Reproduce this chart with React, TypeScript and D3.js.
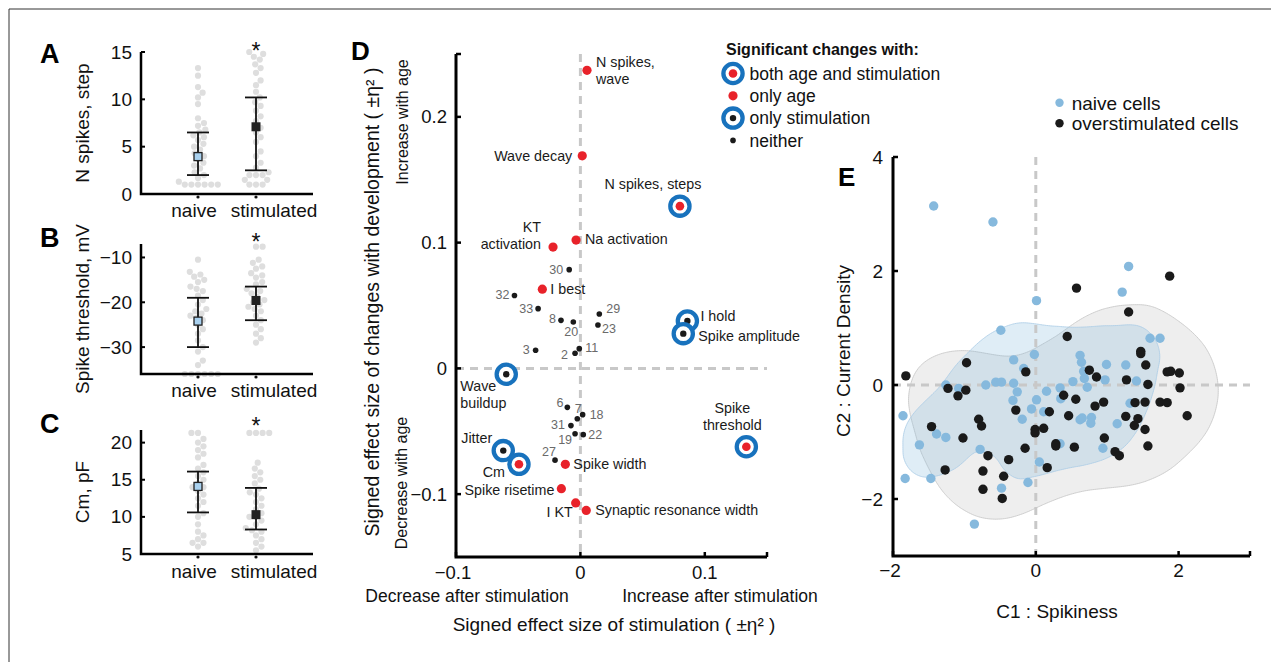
import React from "react";
import * as d3 from "d3";

const FONT = "'Liberation Sans', Arial, Helvetica, sans-serif";

// ---------------- Panels A–C data ----------------
const groups = ["naive", "stimulated"];

const spikesNaive = [13.3, 12.5, 11.3, 10.7, 10.2, 9.5, 8, 7.5, 7.2, 6.8, 6.5, 6.2, 6, 5.7, 5.3, 5, 4.7, 4.3, 4, 3.7, 3.3, 3, 2.7, 2.3, 2, 1.7, 1.3, 1, 1, 1, 1, 1, 1];
const spikesStim = [15, 14.8, 14.5, 14.2, 13.7, 13.3, 12.8, 12, 11.5, 10.8, 10.2, 9.7, 9.3, 8.8, 8.2, 7.7, 7, 6.5, 6, 5.5, 4.5, 4, 3.3, 2.8, 2.3, 2, 2, 2, 1.5, 1.5, 1, 1, 1];
const spikesMean = [3.95, 7.1];
const spikesLow = [2.0, 2.5];
const spikesHigh = [6.5, 10.2];
const spikesTicks = [0, 5, 10, 15];

const thrNaive = [-10.5, -13.2, -13.8, -14.3, -15, -15.5, -16.5, -17, -17.5, -18.5, -19.5, -20.5, -21.5, -22, -22.5, -23, -23.5, -24, -25, -26, -27, -28.5, -30, -31, -33, -34, -36, -36, -36, -36, -36, -36];
const thrStim = [-7.6, -7.6, -10.5, -11.2, -12, -12.5, -13.5, -14, -14.5, -15.5, -16, -17, -17.5, -18, -18.8, -19.5, -20, -20.5, -21, -21.5, -22, -23, -24, -25, -26, -27, -28, -29];
const thrMean = [-24.2, -19.6];
const thrLow = [-30, -24];
const thrHigh = [-19, -16.5];
const thrTicks = [-30, -20, -10];

const cmNaive = [21.3, 21.3, 20.5, 20, 19.5, 19, 18.5, 18, 17, 16.5, 16, 15.5, 15, 14.5, 14, 14, 13.5, 13, 12.5, 12, 11.5, 10.5, 10, 9, 8, 7.5, 7, 6.5, 6.5, 6];
const cmStim = [21.3, 21.3, 21.3, 21.3, 17.3, 16.5, 16, 15.5, 15, 14.5, 13.8, 13.3, 13, 12.5, 12, 11.5, 11, 10.5, 10, 10, 9.5, 9, 8.5, 8.2, 8, 7.5, 7, 6.5, 6, 5.5];
const cmMean = [14.1, 10.3];
const cmLow = [10.6, 8.3];
const cmHigh = [16.1, 13.9];
const cmTicks = [5, 10, 15, 20];

// ---------------- Panel D data ----------------
const effectNames = [
  "N spikes,\nwave", "Wave decay", "N spikes, steps", "KT\nactivation", "Na activation", "30", "I best", "32", "33", "29",
  "8", "20", "23", "3", "11", "2", "I hold", "Spike amplitude", "Wave\nbuildup", "6",
  "7", "18", "31", "19", "22", "Jitter", "Cm", "27", "Spike width", "Spike risetime",
  "I KT", "Synaptic resonance width", "Spike\nthreshold",
];
const stimEffect = [
  0.0053, 0.0015, 0.080, -0.022, -0.0035, -0.009, -0.0306, -0.053, -0.034, 0.0152,
  -0.0156, -0.0057, 0.0141, -0.036, -0.0009, -0.0043, 0.086, 0.0827, -0.0596, -0.0105,
  -0.0025, 0.0018, -0.0076, -0.0043, 0.0023, -0.062, -0.0494, -0.0204, -0.0121, -0.0153,
  -0.0038, 0.0047, 0.1334,
];
const ageEffect = [
  0.237, 0.169, 0.129, 0.0965, 0.102, 0.0785, 0.063, 0.058, 0.0475, 0.0433,
  0.0382, 0.0369, 0.0345, 0.0144, 0.0157, 0.012, 0.0377, 0.0276, -0.0047, -0.031,
  -0.040, -0.0368, -0.0455, -0.052, -0.0527, -0.0654, -0.0763, -0.073, -0.0763, -0.0957,
  -0.107, -0.113, -0.0623,
];
const significance = [
  "age", "age", "both", "age", "age", "neither", "age", "neither", "neither", "neither",
  "neither", "neither", "neither", "neither", "neither", "neither", "stim", "stim", "stim", "neither",
  "neither", "neither", "neither", "neither", "neither", "stim", "both", "neither", "age", "age",
  "age", "age", "both",
];
const legendKeys = ["both", "age", "stim", "neither"];
const legendLabels = ["both age and stimulation", "only age", "only stimulation", "neither"];
const dXTicks = [-0.1, 0, 0.1];
const dYTicks = [-0.1, 0, 0.1, 0.2];

// ---------------- Panel E data ----------------
const naiveC1 = [-1.43, -0.60, 1.30, 1.21, 0.01, -0.49, 1.60, 1.74, -0.02, -0.31, -0.17, 0.62, 0.64, 0.67, 0.99, 1.26, 0.68, 0.52, 0.97, 1.41, 0.72, 0.34, 0.15, 0.35, 0.01, -0.32, -0.26, -0.31, -0.56, -0.48, -0.70, -1.26, -1.08, -0.06, 0.11, -0.19, 0.62, 0.65, 0.78, 0.77, 1.14, 1.32, 0.34, 0.94, -0.78, -1.39, -1.26, -1.63, -1.86, -1.83, -1.47, 0.05, -0.11, -0.48, -0.86];
const naiveC2 = [3.14, 2.86, 2.08, 1.63, 1.48, 0.96, 0.82, 0.82, 0.535, 0.44, 0.29, 0.52, 0.40, 0.24, 0.36, 0.35, 0.115, 0.06, 0.09, 0.07, -0.04, -0.05, -0.11, -0.24, -0.26, -0.27, -0.12, 0.03, 0.05, 0.05, 0.00, 0.00, -0.06, -0.42, -0.47, -0.60, -0.61, -0.58, -0.57, -0.67, -0.68, -0.32, -1.03, -1.11, -1.13, -0.86, -0.92, -1.05, -0.54, -1.64, -1.64, -1.35, -1.71, -1.81, -2.44];
const stimC1 = [1.875, 0.57, 1.30, 0.44, -1.82, -0.97, -1.23, -1.09, -0.98, -0.14, 0.75, 0.85, 1.27, 1.47, 1.47, 1.54, 1.57, 1.84, 1.89, 2.01, 2.02, 1.74, 1.84, 2.12, 1.39, 1.53, 1.26, 1.43, 1.38, 1.53, 1.57, 1.11, 1.17, 0.96, 0.95, 0.83, 0.56, 0.39, 0.46, 0.54, 0.28, 0.28, 0.19, 0.11, -0.01, -0.01, -0.15, -0.28, 0.16, -0.80, -0.76, -1.46, -1.02, -0.67, -0.38, -1.27, -0.74, -0.45, -0.74, -0.47];
const stimC2 = [1.91, 1.70, 1.28, 0.85, 0.16, 0.39, -0.06, -0.19, -0.09, 0.23, 0.26, 0.14, 0.09, 0.59, 0.55, 0.35, 0.01, 0.23, 0.24, 0.21, -0.05, -0.30, -0.31, -0.54, -0.31, -0.30, -0.55, -0.59, -0.71, -0.78, -1.07, -1.17, -1.24, -0.93, -0.30, -0.37, -0.25, -0.18, -0.54, -1.09, -1.03, -1.07, -0.47, -0.76, -0.78, -0.84, -1.11, -0.44, -1.45, -0.60, -0.72, -0.73, -0.93, -1.24, -1.31, -1.49, -1.51, -1.60, -1.83, -1.99];
const eXTicks = [-2, 0, 2];
const eYTicks = [-2, 0, 2, 4];
const eLegend = ["naive cells", "overstimulated cells"];

// ---------------- layout / styles ----------------
const BLUE_RING = "#1872bd";
const RED = "#e8222a";
const DARK = "#1a1a1a";
const NAIVE_BLUE = "#86b9dd";
const DASH = "#c8c8c8";

const labelLayout: Record<string, [number, number, string]> = {
  "N spikes,\nwave": [9, -8, "start"],
  "Wave decay": [-10, 0, "end"],
  "N spikes, steps": [-27, -22, "middle"],
  "KT\nactivation": [-12, -20, "end"],
  "Na activation": [9, -1, "start"],
  "30": [-6, 0, "end"],
  "I best": [8, 0, "start"],
  "32": [-5, -1, "end"],
  "33": [-5, 0, "end"],
  "29": [7, -5, "start"],
  "8": [-5, -2, "end"],
  "20": [-2, 10, "middle"],
  "23": [4, 4, "start"],
  "3": [-6, -1, "end"],
  "11": [6, -1, "start"],
  "2": [-7, 1, "end"],
  "I hold": [13, -5, "start"],
  "Spike amplitude": [15, 2, "start"],
  "Wave\nbuildup": [-46, 12, "start"],
  "6": [-4, -5, "end"],
  "7": [1, -10, "middle"],
  "18": [7, 0, "start"],
  "31": [-6, -1, "end"],
  "19": [-3, 6, "end"],
  "22": [5, 0, "start"],
  "Jitter": [-11, -13, "end"],
  "Cm": [-14, 8, "end"],
  "27": [1, -9, "end"],
  "Spike width": [8, 0, "start"],
  "Spike risetime": [-7, 1, "end"],
  "I KT": [-3, 9.5, "end"],
  "Synaptic resonance width": [9, 0, "start"],
  "Spike\nthreshold": [-14, -39, "middle"],
};

function swarm(values: number[], y: (v: number) => number, r: number) {
  const d = 2 * r + 0.4;
  const placed: { x: number; y: number }[] = [];
  const sorted = values.map((v) => y(v)).sort((a, b) => b - a);
  for (const py of sorted) {
    const cands = [0];
    for (const q of placed) {
      const dy = Math.abs(q.y - py);
      if (dy < d) {
        const dx = Math.sqrt(d * d - dy * dy);
        cands.push(q.x + dx, q.x - dx);
      }
    }
    cands.sort((a, b) => Math.abs(a) - Math.abs(b) || b - a);
    let best = 0;
    for (const c of cands) {
      if (placed.every((q) => (q.x - c) ** 2 + (q.y - py) ** 2 >= d * d - 0.01)) {
        best = c;
        break;
      }
    }
    placed.push({ x: best, y: py });
  }
  return placed;
}

type PanelProps = {
  letter: string;
  letterY: number;
  label: string;
  naive: number[];
  stim: number[];
  mean: number[];
  low: number[];
  high: number[];
  ticks: number[];
  domain: [number, number];
  top: number;
  bottom: number;
  catY: number;
  starY: number;
};

function DotPanel(p: PanelProps) {
  const axisX = 141;
  const axisRight = 313;
  const y = d3.scaleLinear().domain(p.domain).range([p.bottom, p.top]);
  const x = d3.scalePoint<string>().domain(groups).range([198, 256]);
  const labelShift = [-4, 18];
  const sets = [p.naive, p.stim];
  const dotR = 3.1;
  return (
    <g>
      <text x={40} y={p.letterY} fontSize={27} fontWeight="bold" fill="#000">{p.letter}</text>
      <text transform={`translate(89,${(p.top + p.bottom) / 2}) rotate(-90)`} textAnchor="middle" fontSize={19} fill="#111">{p.label}</text>
      {sets.map((vals, gi) =>
        swarm(vals, (v) => y(v), dotR).map((pt, i) => (
          <circle key={`${gi}-${i}`} cx={x(groups[gi])! + pt.x} cy={pt.y} r={dotR} fill="#dedede" />
        ))
      )}
      {groups.map((g, gi) => {
        const cx = x(g)!;
        return (
          <g key={g}>
            <line x1={cx} x2={cx} y1={y(p.low[gi])} y2={y(p.high[gi])} stroke="#111" strokeWidth={1.8} />
            <line x1={cx - 11} x2={cx + 11} y1={y(p.low[gi])} y2={y(p.low[gi])} stroke="#111" strokeWidth={1.8} />
            <line x1={cx - 11} x2={cx + 11} y1={y(p.high[gi])} y2={y(p.high[gi])} stroke="#111" strokeWidth={1.8} />
            {gi === 0 ? (
              <rect x={cx - 4} y={y(p.mean[gi]) - 4} width={8} height={8} fill="#a9d1ef" stroke="#222" strokeWidth={1.3} />
            ) : (
              <rect x={cx - 4.5} y={y(p.mean[gi]) - 4.5} width={9} height={9} fill="#222" />
            )}
            <circle cx={cx} cy={p.bottom + 3} r={1.6} fill="#111" />
            <text x={cx + labelShift[gi]} y={p.catY} textAnchor="middle" fontSize={19} fill="#111">{g}</text>
          </g>
        );
      })}
      <text x={x("stimulated")!} y={p.starY} textAnchor="middle" fontSize={23} fill="#111">*</text>
      <path d={`M${axisX},${p.top}V${p.bottom}H${axisRight}`} fill="none" stroke="#000" strokeWidth={2.5} />
      {p.ticks.map((t) => (
        <g key={t}>
          <line x1={axisX} x2={axisX + 4} y1={y(t)} y2={y(t)} stroke="#000" strokeWidth={2} />
          <text x={axisX - 9} y={y(t) + 6.5} textAnchor="end" fontSize={19} fill="#111">{t < 0 ? `\u2212${Math.abs(t)}` : t}</text>
        </g>
      ))}
    </g>
  );
}

function Marker({ kind, cx, cy }: { kind: string; cx: number; cy: number }) {
  if (kind === "both" || kind === "stim") {
    return (
      <g>
        <circle cx={cx} cy={cy} r={9.6} fill="#fff" stroke={BLUE_RING} strokeWidth={4.3} />
        {kind === "both" ? <circle cx={cx} cy={cy} r={4.3} fill={RED} /> : <circle cx={cx} cy={cy} r={3.2} fill={DARK} />}
      </g>
    );
  }
  if (kind === "age") return <circle cx={cx} cy={cy} r={4.6} fill={RED} />;
  return <circle cx={cx} cy={cy} r={2.8} fill={DARK} />;
}

const fmt = (t: number) => (t < 0 ? `\u2212${Math.abs(t)}` : `${t}`);

function PanelD() {
  const x = d3.scaleLinear().domain([-0.1, 0.15]).range([456, 767]);
  const y = d3.scaleLinear().domain([-0.15, 0.25]).range([557, 54]);
  const order = d3.range(effectNames.length);
  return (
    <g>
      <text x={351} y={60} fontSize={26} fontWeight="bold" fill="#000">D</text>
      <line x1={x(0)} x2={x(0)} y1={y(0.25)} y2={y(-0.15)} stroke={DASH} strokeWidth={3} strokeDasharray="8 6" />
      <line x1={x(-0.1)} x2={x(0.15)} y1={y(0)} y2={y(0)} stroke={DASH} strokeWidth={3} strokeDasharray="8 6" />
      <path d={`M${x(-0.1)},${y(0.25)}V${y(-0.15)}H${x(0.15)}`} fill="none" stroke="#000" strokeWidth={3} />
      {[...dYTicks, 0.25].map((t) => (
        <line key={"yt" + t} x1={x(-0.1)} x2={x(-0.1) + 5} y1={y(t)} y2={y(t)} stroke="#000" strokeWidth={2.5} />
      ))}
      {[...dXTicks, 0.15].map((t) => (
        <line key={"xt" + t} x1={x(t)} x2={x(t)} y1={y(-0.15)} y2={y(-0.15) - 5} stroke="#000" strokeWidth={2.5} />
      ))}
      {dYTicks.map((t) => (
        <text key={"yl" + t} x={x(-0.1) - 9} y={y(t) + 6.5} textAnchor="end" fontSize={18.5} fill="#111">{fmt(t)}</text>
      ))}
      {dXTicks.map((t) => (
        <text key={"xl" + t} x={x(t) - (t < 0 ? 3 : 0)} y={579} textAnchor="middle" fontSize={18.5} fill="#111">{fmt(t)}</text>
      ))}
      <text x={467} y={602} textAnchor="middle" fontSize={17.5} fill="#111">Decrease after stimulation</text>
      <text x={720} y={602} textAnchor="middle" fontSize={17.5} fill="#111">Increase after stimulation</text>
      <text x={614} y={631} textAnchor="middle" fontSize={19} fill="#111">Signed effect size of stimulation ( ±η² )</text>
      <text transform={`translate(379,302) rotate(-90)`} textAnchor="middle" fontSize={19.5} fill="#111">Signed effect size of changes with development ( ±η² )</text>
      <text transform={`translate(408,122) rotate(-90)`} textAnchor="middle" fontSize={16} fill="#111">Increase with age</text>
      <text transform={`translate(407,483) rotate(-90)`} textAnchor="middle" fontSize={16} fill="#111">Decrease with age</text>
      {order.map((i) => (
        <Marker key={"m" + i} kind={significance[i]} cx={x(stimEffect[i])} cy={y(ageEffect[i])} />
      ))}
      {order.map((i) => {
        const name = effectNames[i];
        const lay = labelLayout[name] || [6, 0, "start"];
        const isNum = /^\d+$/.test(name);
        const fs = isNum ? 12.5 : 14.3;
        const lines = name.split("\n");
        const lh = 17;
        const px = x(stimEffect[i]) + lay[0];
        const py = y(ageEffect[i]) + lay[1] + fs * 0.35;
        return (
          <text key={"l" + i} x={px} y={py} textAnchor={lay[2] as any} fontSize={fs} fill={isNum ? "#6a6a6a" : "#1a1a1a"}>
            {lines.map((ln, k) => (
              <tspan key={k} x={px} dy={k === 0 ? 0 : lh}>{ln}</tspan>
            ))}
          </text>
        );
      })}
      <text x={726} y={55} fontSize={16} fontWeight="bold" fill="#111">Significant changes with:</text>
      {legendKeys.map((k, i) => (
        <g key={k}>
          <Marker kind={k} cx={733} cy={73.5 + i * 22.3} />
          <text x={749.5} y={73.5 + i * 22.3 + 6.2} fontSize={17.5} fill="#111">{legendLabels[i]}</text>
        </g>
      ))}
    </g>
  );
}

function PanelE() {
  const x = d3.scaleLinear().domain([-2, 3]).range([893, 1250]);
  const y = d3.scaleLinear().domain([-3, 4]).range([556, 157]);
  const path = d3.geoPath();
  const contour = (xs: number[], ys: number[], bw: number, frac: number) => {
    const pts = xs.map((v, i) => [x(v), y(ys[i])] as [number, number]);
    const gen = d3
      .contourDensity<[number, number]>()
      .x((d) => d[0])
      .y((d) => d[1])
      .size([1300, 700])
      .cellSize(2)
      .bandwidth(bw);
    const cs = gen.contours(pts);
    return cs(cs.max * frac);
  };
  const blueC = contour(naiveC1, naiveC2, 26, 0.24);
  const grayC = contour(stimC1, stimC2, 30, 0.19);
  return (
    <g>
      <defs>
        <clipPath id="eclip">
          <rect x={893} y={157} width={357} height={399} />
        </clipPath>
      </defs>
      <text x={838} y={186} fontSize={26} fontWeight="bold" fill="#000">E</text>
      <g clipPath="url(#eclip)">
        <path d={path(grayC as any) || ""} fill="#9a9a9a" fillOpacity={0.17} stroke="#c4c4c4" strokeWidth={0.8} />
        <path d={path(blueC as any) || ""} fill="#7fb6dc" fillOpacity={0.25} stroke="#a9cce6" strokeWidth={0.8} />
      </g>
      <line x1={x(0)} x2={x(0)} y1={y(4)} y2={y(-3)} stroke={DASH} strokeWidth={3} strokeDasharray="8 6" />
      <line x1={x(-2)} x2={x(3)} y1={y(0)} y2={y(0)} stroke={DASH} strokeWidth={3} strokeDasharray="8 6" />
      {naiveC1.map((v, i) => (
        <circle key={"n" + i} cx={x(v)} cy={y(naiveC2[i])} r={4.7} fill={NAIVE_BLUE} />
      ))}
      {stimC1.map((v, i) => (
        <circle key={"s" + i} cx={x(v)} cy={y(stimC2[i])} r={4.7} fill={DARK} />
      ))}
      <path d={`M${x(-2)},${y(4)}V${y(-3)}H${x(3)}`} fill="none" stroke="#000" strokeWidth={3} />
      {eYTicks.map((t) => (
        <g key={"ey" + t}>
          <line x1={x(-2)} x2={x(-2) + 5} y1={y(t)} y2={y(t)} stroke="#000" strokeWidth={2.5} />
          <text x={x(-2) - 10} y={y(t) + 7} textAnchor="end" fontSize={19} fill="#111">{fmt(t)}</text>
        </g>
      ))}
      {[...eXTicks, 3].map((t) => (
        <line key={"ext" + t} x1={x(t)} x2={x(t)} y1={y(-3)} y2={y(-3) - 5} stroke="#000" strokeWidth={2.5} />
      ))}
      {eXTicks.map((t) => (
        <text key={"ex" + t} x={x(t) - (t < 0 ? 3 : 0)} y={577} textAnchor="middle" fontSize={19} fill="#111">{fmt(t)}</text>
      ))}
      <text x={1057} y={618} textAnchor="middle" fontSize={19} fill="#111">C1 : Spikiness</text>
      <text transform={`translate(850,351) rotate(-90)`} textAnchor="middle" fontSize={19} fill="#111">C2 : Current Density</text>
      {eLegend.map((t, i) => (
        <g key={t}>
          <circle cx={1059.5} cy={102.7 + i * 20.6} r={4.2} fill={i === 0 ? NAIVE_BLUE : DARK} />
          <text x={1071.7} y={102.7 + i * 20.6 + 6.8} fontSize={19} fill="#111">{t}</text>
        </g>
      ))}
    </g>
  );
}

export default function App() {
  return (
    <svg
      width={1271}
      height={662}
      style={{ position: "absolute", left: 0, top: 0, background: "#fff" }}
      fontFamily={FONT}
    >
      <rect x={0} y={0} width={1271} height={662} fill="#fff" />
      <path d="M9,662V9H1271" fill="none" stroke="#333" strokeWidth={1} />
      <DotPanel letter="A" letterY={63} label="N spikes, step" naive={spikesNaive} stim={spikesStim} mean={spikesMean} low={spikesLow} high={spikesHigh} ticks={spikesTicks} domain={[0, 15]} top={52} bottom={194} catY={217} starY={59} />
      <DotPanel letter="B" letterY={247} label="Spike threshold, mV" naive={thrNaive} stim={thrStim} mean={thrMean} low={thrLow} high={thrHigh} ticks={thrTicks} domain={[-36, -7]} top={244} bottom={374} catY={397} starY={250} />
      <DotPanel letter="C" letterY={433} label="Cm, pF" naive={cmNaive} stim={cmStim} mean={cmMean} low={cmLow} high={cmHigh} ticks={cmTicks} domain={[5, 21.7]} top={430} bottom={554} catY={578} starY={434} />
      <PanelD />
      <PanelE />
    </svg>
  );
}
